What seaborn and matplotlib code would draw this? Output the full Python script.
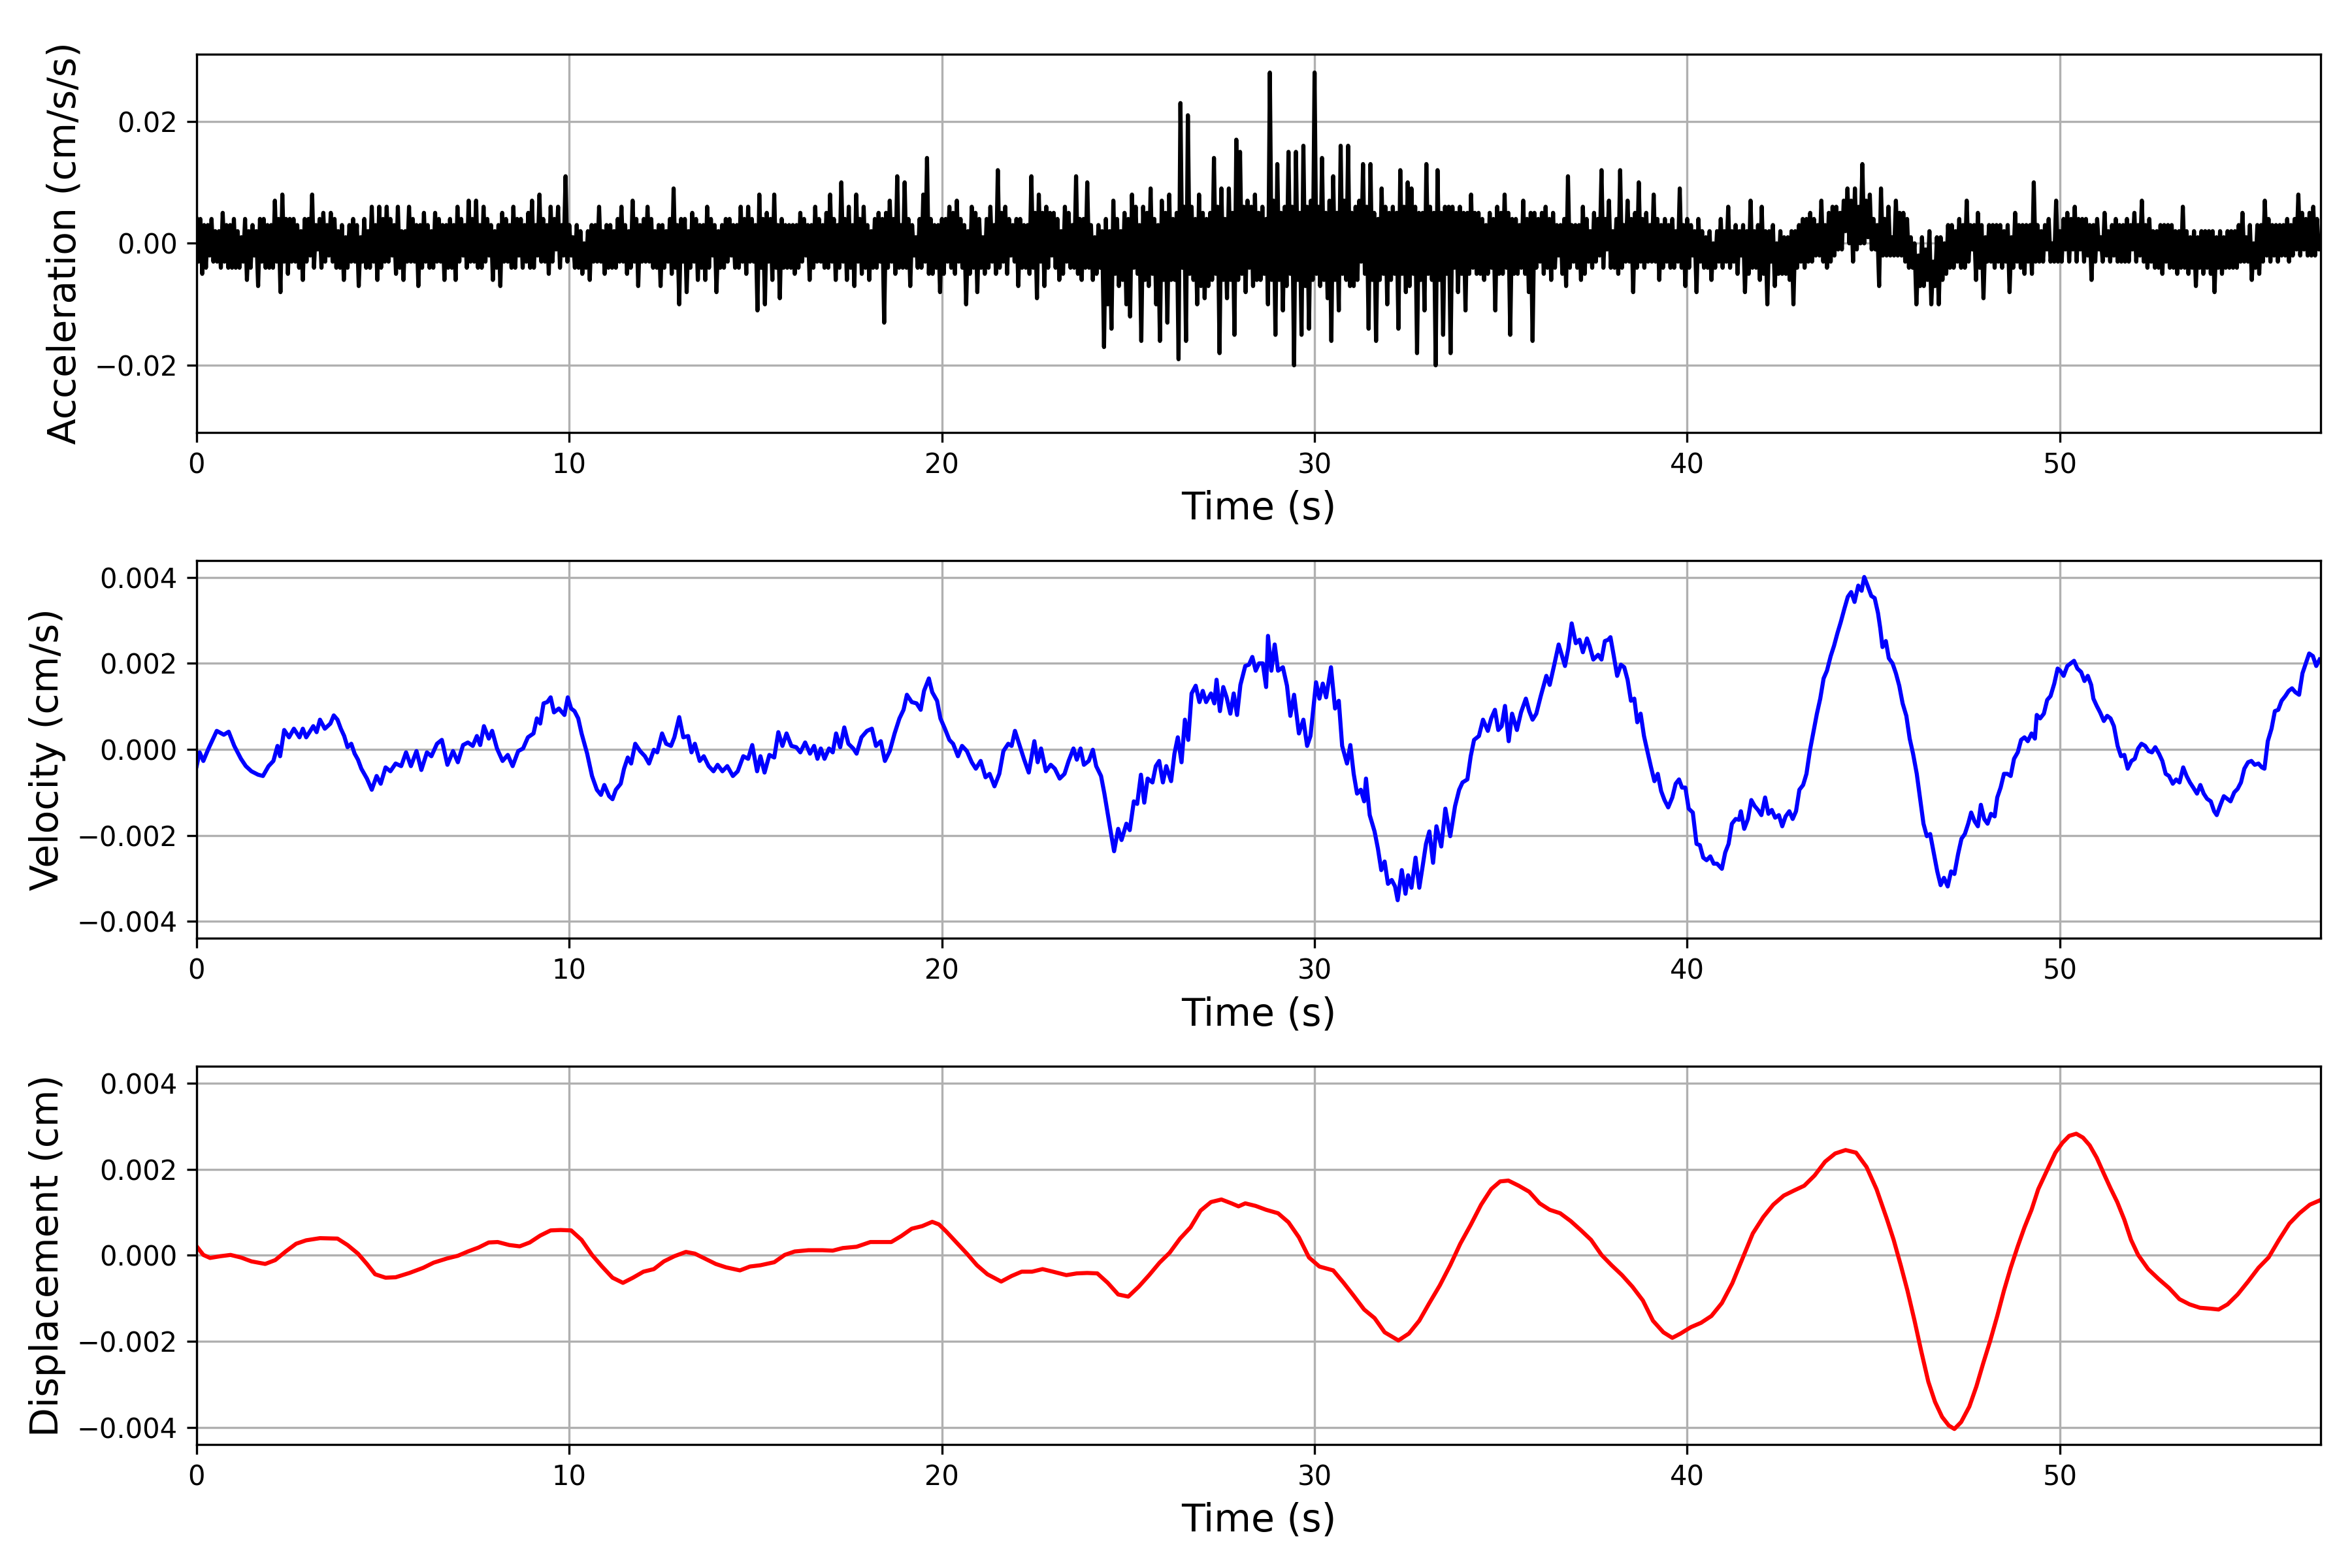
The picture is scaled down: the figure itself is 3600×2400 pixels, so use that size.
import numpy as np
import matplotlib
matplotlib.use('Agg')
import matplotlib.pyplot as plt
import seaborn as sns

# acceleration every 0.05 s, in units of 1e-3 cm/s/s (one row per second)
acc_dt = 0.05
acc_vals = [
    4, -3, 4, -5, 3, -4, 3, -2, 4, -3, 2, -3, 2, -4, 5, -3, 3, -4, 3, -4,
    4, -4, 2, -4, 1, -3, 4, -6, 2, -4, 3, -2, 2, -7, 4, -3, 4, -4, 3, -4,
    3, -4, 7, -3, 4, -8, 8, -3, 4, -5, 4, -3, 4, -3, 3, -4, 2, -6, 4, -3,
    4, -2, 8, -4, 3, -1, 4, -4, 5, -3, 3, -2, 5, -3, 4, -4, 2, -4, 3, -6,
    1, -4, 3, -3, 4, -3, 3, -7, 1, -3, 4, -4, 2, -4, 6, -3, 3, -6, 6, -4,
    4, -3, 6, -3, 4, -2, 3, -5, 6, -4, 2, -6, 2, -3, 6, -3, 4, -3, 3, -7,
    3, -4, 5, -3, 3, -4, 2, -4, 5, -3, 4, -3, 3, -6, 3, -4, 4, -4, 3, -6,
    6, -3, 4, -2, 3, -4, 7, -3, 4, -3, 7, -4, 3, -4, 6, -3, 4, -2, 3, -6,
    2, -4, 3, -7, 5, -3, 4, -3, 3, -4, 6, -4, 4, -2, 4, -4, 3, -3, 5, -4,
    7, -4, 3, -2, 8, -3, 4, -3, 3, -5, 6, -3, 4, -1, 6, -4, 3, -2, 11, -3,
    3, -2, 1, -4, 3, -4, 2, -5, 0, -4, 2, -6, 3, -3, 3, -3, 6, -3, 2, -5,
    3, -4, 3, -4, 2, -4, 4, -3, 6, -3, 3, -5, 2, -4, 7, -3, 4, -7, 3, -3,
    4, -3, 6, -3, 4, -4, 2, -4, 3, -7, 3, -4, 2, -3, 4, -5, 9, -4, 3, -10,
    4, -3, 4, -8, 2, -4, 5, -3, 4, -6, 3, -4, 3, -6, 6, -4, 4, -2, 3, -8,
    2, -4, 3, -4, 4, -3, 4, -2, 3, -4, 3, -4, 6, -3, 4, -5, 6, -3, 4, -3,
    3, -11, 8, -4, 4, -10, 5, -3, 4, -6, 8, -4, 3, -9, 4, -4, 3, -4, 3, -4,
    3, -5, 3, -4, 5, -3, 4, -2, 3, -6, 3, -4, 6, -3, 4, -3, 3, -4, 5, -4,
    8, -3, 4, -6, 3, -4, 10, -3, 4, -6, 6, -4, 3, -7, 8, -3, 4, -5, 6, -4,
    3, -6, 2, -4, 4, -4, 5, -3, 4, -13, 5, -4, 7, -3, 4, -5, 11, -4, 3, -4,
    10, -4, 4, -7, 3, -2, 1, -4, 4, -4, 8, -3, 14, -5, 4, -5, 3, -4, 3, -8,
    4, -5, 4, -3, 6, -4, 5, -5, 7, -3, 4, -4, 3, -10, 2, -5, 6, -4, 5, -8,
    4, -4, 1, -5, 4, -4, 6, -3, 3, -5, 12, -4, 5, -3, 6, -5, 4, -2, 3, -3,
    4, -7, 4, -4, 3, -4, 3, -5, 11, -4, 5, -9, 8, -3, 5, -7, 6, -4, 5, -2,
    5, -4, 4, -6, 2, -5, 6, -3, 5, -4, 3, -4, 11, -5, 4, -6, 4, -4, 10, -4,
    3, -6, 1, -5, 3, -4, 2, -17, 4, -10, 2, -14, 7, -5, 4, -7, 2, -6, 5, -10,
    4, -12, 8, -4, 6, -5, 3, -16, 6, -6, 5, -7, 9, -5, 4, -10, 3, -16, 7, -6,
    5, -13, 8, -6, 4, -6, 5, -19, 23, -4, 6, -16, 21, -5, 6, -6, 4, -10, 8, -7,
    5, -9, 4, -7, 5, -6, 14, -5, 6, -18, 9, -6, 4, -9, 9, -6, 5, -15, 17, -6,
    15, -5, 6, -8, 7, -4, 6, -7, 8, -6, 5, -6, 6, -5, 4, -10, 28, -6, 7, -15,
    13, -6, 5, -11, 6, -7, 15, -5, 6, -20, 15, -6, 5, -15, 16, -7, 6, -14, 7, -6,
    28, -5, 6, -7, 14, -6, 5, -9, 7, -16, 11, -6, 5, -11, 16, -5, 7, -6, 16, -7,
    5, -7, 6, -6, 7, -3, 13, -5, 6, -14, 13, -6, 5, -16, 4, -6, 9, -5, 6, -10,
    5, -6, 6, -5, 5, -14, 12, -5, 6, -8, 10, -7, 9, -5, 6, -18, 5, -6, 5, -11,
    13, -5, 6, -6, 5, -20, 12, -6, 5, -15, 6, -5, 6, -18, 6, -4, 5, -8, 6, -5,
    5, -11, 5, -5, 8, -4, 5, -5, 5, -5, 4, -6, 3, -5, 5, -4, 4, -11, 6, -5,
    5, -5, 8, -4, 5, -15, 4, -5, 4, -5, 3, -4, 7, -5, 4, -8, 5, -16, 5, -4,
    4, -3, 5, -5, 6, -4, 4, -6, 5, -4, 3, -2, 3, -5, 4, -7, 11, -4, 3, -3,
    3, -4, 3, -6, 6, -5, 4, -3, 2, -4, 5, -3, 4, -2, 12, -4, 4, -1, 7, -4,
    2, -4, 4, -5, 12, -4, 3, -3, 7, -3, 4, -8, 5, -4, 10, -3, 4, -4, 5, -3,
    3, -3, 8, -3, 4, -6, 3, -4, 4, -3, 3, -4, 4, -4, 2, -3, 9, -4, 3, -7,
    4, -4, 3, -2, 2, -8, 4, -3, 2, -4, 1, -4, 2, -6, 0, -4, 2, -3, 4, -4,
    2, -3, 6, -4, 2, -3, 3, -5, 2, -2, 3, -8, 2, -5, 7, -4, 2, -4, 3, -6,
    6, -5, 2, -10, 2, -3, 3, -7, 0, -5, 2, -5, 1, -5, 1, -6, 2, -10, 2, -4,
    3, -3, 4, -4, 4, -3, 5, -3, 4, -2, 3, -2, 7, -3, 3, -4, 5, -3, 6, -2,
    6, -1, 5, -1, 7, 2, 9, 0, 7, -3, 9, -1, 6, 0, 13, 0, 7, 1, 8, -1,
    4, -1, 3, -7, 9, -2, 4, -2, 6, -2, 1, -2, 7, -2, 5, -2, 5, -3, 4, -4,
    1, -4, 0, -10, -2, -7, 1, -7, -1, -6, 2, -10, -3, -7, 1, -10, 1, -6, 0, -5,
    3, -4, 3, -4, 2, -3, 4, -4, 3, -4, 7, -3, 3, -1, 3, -6, 5, -4, 3, -9,
    1, -3, 3, -3, 3, -4, 3, -3, 3, -4, 2, -3, 3, -8, 1, -4, 5, -3, 3, -4,
    3, -5, 3, -3, 3, -5, 10, -3, 3, -3, 2, -3, 3, -1, 4, -3, 0, -3, 7, -3,
    2, -3, 4, -1, 5, -3, 4, -1, 6, -3, 4, -1, 4, -3, 4, -2, 3, -6, 3, -3,
    4, -1, 1, -3, 5, -2, 2, -3, 3, -2, 4, -3, 3, -3, 3, -3, 4, -3, 3, -1,
    5, -3, 3, -2, 7, -3, 3, -4, 4, -3, 2, -4, 2, -4, 3, -5, 3, -3, 3, -4,
    3, -4, 2, -5, 2, -4, 6, -4, 2, -5, 1, -4, 2, -7, 1, -4, 2, -5, 2, -4,
    2, -5, 2, -8, 1, -4, 2, -5, 1, -4, 2, -4, 2, -4, 2, -4, 3, -3, 5, -3,
    1, -3, 3, -6, 0, -4, 3, -5, 3, -3, 7, -2, 4, -3, 3, -2, 3, -3, 3, -2,
    3, -2, 4, -3, 3, -2, 4, -1, 8, -2, 5, -1, 4, -2, 5, -2, 6, -2, 4, -1,
    1,
]

# velocity, time in s and value in units of 1e-4 cm/s
vel_t = [
    0.00, 0.08, 0.18, 0.32, 0.54, 0.73, 0.86, 1.01, 1.19, 1.32, 1.47, 1.65, 1.78, 1.93, 2.06, 2.17, 2.24, 2.35,
    2.48, 2.61, 2.76, 2.85, 2.94, 3.13, 3.22, 3.31, 3.44, 3.59, 3.68, 3.78, 3.87, 3.96, 4.05, 4.15, 4.24, 4.33,
    4.42, 4.57, 4.70, 4.83, 4.94, 5.07, 5.20, 5.34, 5.49, 5.62, 5.75, 5.90, 6.03, 6.18, 6.30, 6.45, 6.58, 6.73,
    6.88, 7.01, 7.15, 7.28, 7.41, 7.52, 7.61, 7.71, 7.84, 7.93, 8.06, 8.21, 8.35, 8.48, 8.63, 8.76, 8.89, 9.04,
    9.13, 9.22, 9.31, 9.41, 9.50, 9.59, 9.72, 9.87, 9.96, 10.05, 10.14, 10.24, 10.33, 10.48, 10.61, 10.74, 10.85,
    10.94, 11.07, 11.16, 11.25, 11.38, 11.47, 11.57, 11.66, 11.77, 11.90, 12.03, 12.14, 12.27, 12.36, 12.49,
    12.60, 12.73, 12.82, 12.95, 13.06, 13.19, 13.28, 13.37, 13.50, 13.61, 13.74, 13.87, 13.98, 14.11, 14.24,
    14.39, 14.52, 14.67, 14.80, 14.91, 15.04, 15.13, 15.24, 15.37, 15.50, 15.61, 15.72, 15.83, 15.96, 16.09,
    16.20, 16.33, 16.46, 16.57, 16.66, 16.75, 16.85, 16.97, 17.07, 17.16, 17.27, 17.38, 17.49, 17.62, 17.71,
    17.84, 17.99, 18.12, 18.23, 18.36, 18.47, 18.60, 18.73, 18.86, 18.97, 19.06, 19.19, 19.32, 19.43, 19.52,
    19.65, 19.74, 19.87, 19.96, 20.08, 20.20, 20.30, 20.43, 20.54, 20.67, 20.80, 20.91, 21.04, 21.17, 21.28,
    21.41, 21.54, 21.65, 21.78, 21.87, 21.96, 22.09, 22.20, 22.33, 22.48, 22.57, 22.66, 22.79, 22.92, 23.03,
    23.16, 23.29, 23.40, 23.53, 23.62, 23.72, 23.81, 23.94, 24.05, 24.14, 24.27, 24.36, 24.45, 24.54, 24.62,
    24.73, 24.82, 24.95, 25.04, 25.15, 25.24, 25.34, 25.43, 25.52, 25.65, 25.74, 25.83, 25.93, 26.02, 26.15,
    26.24, 26.33, 26.43, 26.52, 26.61, 26.70, 26.81, 26.91, 27.00, 27.09, 27.22, 27.31, 27.37, 27.46, 27.55,
    27.64, 27.74, 27.83, 27.92, 28.01, 28.14, 28.24, 28.33, 28.42, 28.51, 28.61, 28.70,
    28.75, 28.84, 28.93, 29.02, 29.15, 29.26, 29.35, 29.45, 29.58, 29.70, 29.80, 29.89, 30.04, 30.13, 30.22,
    30.31, 30.44, 30.55, 30.65, 30.74, 30.87, 30.96, 31.05, 31.14, 31.24, 31.33, 31.38, 31.48, 31.61, 31.70,
    31.79, 31.88, 31.97, 32.07, 32.16, 32.23, 32.34, 32.44, 32.51, 32.60, 32.71, 32.81, 32.90, 32.99, 33.08,
    33.18, 33.27, 33.40, 33.51, 33.64, 33.77, 33.88, 33.97, 34.10, 34.19, 34.28, 34.41, 34.52, 34.65, 34.74,
    34.84, 34.93, 35.02, 35.11, 35.21, 35.30, 35.43, 35.54, 35.67, 35.76, 35.85, 35.95, 36.07, 36.22, 36.31,
    36.44, 36.55, 36.72, 36.81, 36.90, 37.01, 37.11, 37.20, 37.31, 37.38, 37.48, 37.61, 37.70, 37.79, 37.88,
    37.94, 38.03, 38.12, 38.22, 38.31, 38.40, 38.49, 38.58, 38.66, 38.75, 38.84, 38.93, 39.03, 39.12, 39.21,
    39.30, 39.39, 39.49, 39.60, 39.69, 39.78, 39.86, 39.95, 40.04, 40.15, 40.25, 40.34, 40.43, 40.52, 40.62,
    40.71, 40.80, 40.93, 41.02, 41.11, 41.20, 41.30, 41.39, 41.44, 41.53, 41.63, 41.72, 41.81, 41.90, 41.99,
    42.09, 42.18, 42.27, 42.36, 42.46, 42.55, 42.64, 42.74, 42.83, 42.92, 43.01, 43.11, 43.20, 43.29, 43.38,
    43.48, 43.57, 43.66, 43.75, 43.85, 43.94, 44.03, 44.12, 44.22, 44.31, 44.40, 44.49, 44.59, 44.68, 44.75,
    44.84, 44.94, 45.03, 45.12, 45.18, 45.24, 45.33, 45.41, 45.51, 45.60, 45.69, 45.78, 45.88, 45.97, 46.06,
    46.16, 46.25, 46.34, 46.43, 46.52, 46.62, 46.71, 46.80, 46.89, 46.99, 47.08, 47.17, 47.27, 47.36, 47.45,
    47.54, 47.62, 47.71, 47.80, 47.88, 47.97, 48.06, 48.15, 48.25, 48.32, 48.41, 48.50, 48.59, 48.68, 48.77,
    48.87, 48.96, 49.05, 49.14, 49.24, 49.33, 49.38, 49.47, 49.57, 49.66, 49.75, 49.85, 49.94, 50.01, 50.10,
    50.20, 50.29, 50.38, 50.47, 50.57, 50.66, 50.75, 50.84, 50.90, 50.99, 51.08, 51.18, 51.27, 51.36, 51.45,
    51.55, 51.64, 51.73, 51.82, 51.92, 52.01, 52.10, 52.19, 52.29, 52.38, 52.47, 52.56, 52.66, 52.75, 52.84,
    52.93, 53.03, 53.12, 53.21, 53.31, 53.40, 53.49, 53.58, 53.68, 53.77, 53.86, 53.95, 54.05, 54.14, 54.21,
    54.31, 54.40, 54.49, 54.58, 54.68, 54.77, 54.86, 54.95, 55.05, 55.14, 55.23, 55.33, 55.42, 55.49, 55.58,
    55.68, 55.77, 55.86, 55.95, 56.05, 56.14, 56.23, 56.32, 56.42, 56.51, 56.60, 56.69, 56.79, 56.88, 56.97,
]
vel_v = [
    -3.9, -0.7, -2.7, 0.2, 4.3, 3.4, 4.1, 0.8, -2.2, -3.9, -5.1, -5.9, -6.2, -3.9, -2.7, 0.8, -1.6, 4.5,
    2.8, 4.8, 2.8, 4.8, 2.8, 5.4, 4.0, 6.9, 4.8, 6.0, 7.9, 6.9, 4.8, 3.1, 0.5, 1.3, -1.0, -2.4,
    -4.5, -6.8, -9.4, -6.2, -8.0, -4.2, -5.1, -3.3, -3.9, -0.7, -3.9, -0.4, -4.8, -0.7, -1.6, 1.3, 2.2, -3.6,
    -0.4, -3.0, 1.0, 1.6, 0.8, 3.1, 1.0, 5.4, 2.5, 4.3, 0.2, -2.7, -1.3, -3.9, -0.4, 0.2, 2.8, 3.7,
    7.2, 6.0, 10.7, 11.0, 12.1, 8.6, 9.5, 8.0, 12.1, 9.5, 8.9, 7.2, 3.7, -1.0, -6.2, -9.4, -10.6,
    -8.3, -10.9, -11.6, -9.4, -8.0, -4.5, -1.9, -3.3, 1.3, -0.4, -1.6, -3.3, -0.1, -0.7, 3.7,
    1.3, 0.8, 2.8, 7.5, 2.8, 3.1, -0.7, 1.3, -2.7, -1.6, -3.9, -5.1, -3.6, -5.1, -3.9,
    -6.2, -5.1, -1.6, -2.2, 1.0, -5.1, -1.6, -5.4, -1.3, -1.9, 4.0, 0.8, 3.7, 0.8, 0.5,
    -0.7, 1.6, -1.0, 0.8, -2.2, 0.2, -2.2, 0.2, -0.7, 3.7, 0.5, 5.1, 1.3, 0.2, -1.0,
    2.8, 4.3, 4.8, 0.8, 1.9, -2.7, -0.4, 3.7, 7.2, 9.2, 12.7, 11.0, 10.7, 9.2, 13.6,
    16.5, 13.3, 11.3, 7.2, 4.8, 2.2, 1.3, -1.6, 0.8, -0.4, -3.0, -4.5, -2.7, -6.5, -5.7,
    -8.6, -5.7, -0.4, 1.3, 0.8, 4.3, 0.8, -2.2, -5.4, 1.9, -3.0, 0.2, -5.1, -3.6, -4.5,
    -6.8, -5.7, -2.7, 0.2, -2.4, 0.2, -3.6, -2.7, -0.1, -3.9, -6.2, -10.3, -15.0, -19.7, -23.7,
    -18.5, -21.1, -17.3, -18.8, -12.1, -12.7, -5.9, -12.4, -6.8, -7.7, -3.9, -2.7, -7.7, -3.9, -7.4,
    -1.0, 2.8, -3.0, 6.9, 2.2, 13.0, 14.8, 11.0, 13.6, 11.0, 13.0, 10.7, 16.2, 8.9, 14.5,
    12.1, 8.3, 13.0, 8.0, 15.0, 19.4, 19.7, 21.5, 18.3, 20.0, 20.0, 14.5,
    26.4, 18.3, 24.4, 18.3, 19.1, 14.8, 7.8, 12.7, 3.7, 6.9, 0.8, 3.1, 15.6, 11.8, 15.3,
    12.1, 19.1, 9.5, 11.3, 0.8, -3.3, 1.0, -5.7, -10.3, -9.4, -12.1, -6.8, -15.3, -19.1, -23.1,
    -28.1, -26.1, -31.3, -30.4, -31.9, -35.1, -28.1, -33.6, -29.3, -32.2, -25.2, -32.2, -27.2, -22.0, -19.1,
    -26.4, -17.9, -22.6, -13.8, -20.2, -13.2, -9.4, -7.7, -7.0, -1.6, 2.2, 3.1, 6.9, 4.3, 7.2,
    9.2, 4.5, 5.4, 10.1, 1.9, 8.3, 4.5, 8.6, 11.8, 8.9, 6.9, 8.3, 12.4, 17.1, 15.0,
    20.0, 24.4, 19.4, 23.5, 29.3, 24.7, 25.5, 22.6, 25.8, 24.1, 20.9, 22.0, 20.9, 25.2, 25.5,
    26.1, 21.7, 17.1, 19.7, 19.1, 16.2, 11.3, 11.8, 6.3, 8.3, 3.1, -0.4, -4.2, -7.4, -5.7,
    -9.7, -11.8, -13.5, -11.2, -8.0, -7.0, -8.9, -8.9, -13.8, -14.7, -22.0, -22.3, -25.2, -25.8, -24.9,
    -26.6, -26.6, -27.8, -24.0, -22.0, -17.3, -16.2, -16.4, -14.4, -18.5, -16.2, -11.8, -13.2, -14.1, -15.3,
    -11.2, -15.0, -14.1, -15.9, -15.3, -17.9, -15.6, -14.4, -16.2, -14.4, -9.4, -8.3, -5.7, -0.4, 3.7,
    8.3, 11.8, 16.5, 18.3, 21.7, 24.1, 27.0, 29.6, 32.8, 35.5, 36.6, 34.3, 38.1, 36.9, 40.1,
    38.1, 35.7, 35.2, 31.7, 28.2, 23.8, 25.2, 21.2, 20.0, 17.7, 14.8, 10.7, 7.8, 2.5, -1.0,
    -5.7, -11.5, -17.3, -20.2, -19.7, -24.3, -28.4, -31.6, -29.9, -31.9, -28.4, -29.0, -24.3, -20.8, -19.7,
    -17.3, -14.7, -16.7, -17.9, -12.9, -16.2, -17.3, -15.0, -15.6, -11.2, -8.9, -5.7, -5.7, -6.2, -2.2,
    -0.7, 2.2, 2.8, 1.9, 3.7, 2.5, 8.0, 7.2, 8.3, 11.5, 12.4, 15.3, 18.8, 18.3, 17.1,
    19.4, 20.0, 20.6, 18.8, 18.0, 15.9, 17.1, 15.0, 11.8, 10.1, 8.6, 6.6, 7.8, 7.2, 5.4,
    0.8, -1.6, -1.3, -4.5, -2.7, -2.2, 0.2, 1.3, 0.8, -0.4, -0.7, 0.5, -1.0, -2.7, -5.7,
    -6.2, -8.0, -7.0, -7.7, -4.2, -6.2, -7.7, -8.9, -10.3, -8.3, -10.3, -11.5, -12.1, -14.4, -15.3,
    -12.9, -10.9, -11.5, -12.1, -10.0, -9.2, -7.7, -4.5, -3.0, -2.7, -3.6, -3.3, -4.2, -4.5, 1.9,
    4.8, 8.9, 9.2, 11.3, 12.4, 13.6, 14.2, 13.3, 12.7, 17.7, 20.0, 22.3, 21.7, 19.4, 20.9,
]

# displacement, time in s and value in units of 1e-4 cm
disp_t = [
    0.00, 0.18, 0.36, 0.64, 0.91, 1.19, 1.47, 1.84, 2.11, 2.39, 2.67, 2.94, 3.31, 3.78, 4.05, 4.33, 4.57, 4.79,
    5.07, 5.34, 5.71, 6.08, 6.36, 6.73, 7.01, 7.28, 7.56, 7.84, 8.08, 8.39, 8.67, 8.94, 9.22, 9.50, 9.77,
    10.05, 10.33, 10.61, 10.88, 11.16, 11.44, 11.71, 11.99, 12.27, 12.54, 12.82, 13.13, 13.37, 13.65, 13.93,
    14.21, 14.58, 14.85, 15.13, 15.50, 15.78, 16.05, 16.42, 16.79, 17.07, 17.34, 17.71, 18.08, 18.36, 18.64,
    18.91, 19.19, 19.47, 19.74, 19.92, 20.11, 20.39, 20.67, 20.94, 21.22, 21.59, 21.87, 22.14, 22.42, 22.70,
    22.98, 23.34, 23.62, 23.90, 24.17, 24.45, 24.73, 25.00, 25.28, 25.56, 25.84, 26.11, 26.39, 26.67, 26.94,
    27.22, 27.50, 27.77, 27.96, 28.14, 28.42, 28.70, 29.02, 29.30, 29.58, 29.85, 30.13, 30.50, 30.78, 31.05,
    31.33, 31.61, 31.88, 32.25, 32.53, 32.81, 33.08, 33.36, 33.64, 33.91, 34.19, 34.47, 34.74, 34.98, 35.20,
    35.48, 35.76, 36.04, 36.31, 36.59, 36.87, 37.14, 37.42, 37.70, 37.97, 38.25, 38.53, 38.81, 39.08, 39.36,
    39.60, 39.82, 40.10, 40.37, 40.65, 40.93, 41.21, 41.48, 41.76, 42.04, 42.31, 42.59, 42.87, 43.14, 43.42,
    43.70, 43.97, 44.25, 44.53, 44.81, 45.08, 45.36, 45.54, 45.73, 45.91, 46.10, 46.28, 46.47, 46.65, 46.84,
    47.02, 47.17, 47.35, 47.57, 47.76, 47.94, 48.13, 48.32, 48.50, 48.68, 48.87, 49.05, 49.24, 49.42, 49.70,
    49.88, 50.07, 50.25, 50.44, 50.62, 50.80, 50.99, 51.17, 51.36, 51.54, 51.73, 51.91, 52.10, 52.37, 52.65,
    52.93, 53.21, 53.48, 53.76, 54.04, 54.26, 54.50, 54.77, 55.05, 55.33, 55.60, 55.88, 56.16, 56.43, 56.71,
    56.95,
]
disp_v = [
    2.1, 0.1, -0.6, -0.2, 0.1, -0.5, -1.4, -2.0, -1.1, 0.9, 2.7, 3.5, 4.0, 3.9, 2.4, 0.4, -2.0, -4.4,
    -5.2, -5.1, -4.1, -2.9, -1.7, -0.7, -0.1, 0.9, 1.8, 3.0, 3.1, 2.4, 2.1, 3.0, 4.6, 5.8, 5.9,
    5.8, 3.6, 0.1, -2.6, -5.2, -6.4, -5.2, -3.8, -3.2, -1.4, -0.2, 0.8, 0.4, -0.8, -2.0,
    -2.8, -3.5, -2.6, -2.3, -1.6, 0.1, 0.9, 1.2, 1.2, 1.1, 1.7, 2.0, 3.1, 3.1, 3.1,
    4.5, 6.2, 6.8, 7.8, 7.2, 5.6, 3.0, 0.4, -2.3, -4.4, -6.1, -4.8, -3.8, -3.8, -3.2,
    -3.8, -4.6, -4.2, -4.1, -4.2, -6.4, -9.1, -9.6, -7.3, -4.6, -1.7, 0.6, 3.9, 6.5, 10.4,
    12.4, 13.0, 12.1, 11.4, 12.1, 11.5, 10.6, 9.8, 7.7, 4.2, -0.5, -2.6, -3.5, -6.4, -9.4,
    -12.6, -14.6, -17.9, -19.8, -18.2, -15.2, -11.1, -7.0, -2.3, 2.7, 7.1, 11.8, 15.4, 17.2, 17.4,
    16.2, 14.8, 12.1, 10.6, 9.8, 8.0, 5.9, 3.6, 0.1, -2.3, -4.6, -7.3, -10.5, -15.2, -17.9,
    -19.2, -18.2, -16.7, -15.7, -14.1, -11.1, -6.5, -0.8, 5.1, 8.9, 11.8, 13.9, 15.1, 16.2, 18.6,
    21.8, 23.7, 24.5, 23.9, 20.6, 15.4, 8.4, 3.6, -2.3, -8.2, -15.2, -22.3, -29.4, -34.1, -37.6,
    -39.6, -40.4, -38.8, -35.2, -30.5, -25.2, -19.9, -14.1, -8.2, -2.9, 2.1, 6.5, 10.6, 15.4, 20.6,
    23.9, 26.2, 27.8, 28.3, 27.4, 25.6, 22.7, 19.2, 15.6, 12.4, 8.3, 3.6, 0.1, -3.2, -5.5,
    -7.6, -10.2, -11.4, -12.2, -12.4, -12.6, -11.4, -9.1, -6.1, -2.9, -0.5, 3.6, 7.4, 9.8, 11.8,
    12.7,
]

t_acc = np.arange(len(acc_vals)) * acc_dt
acc = np.array(acc_vals) * 1e-3
vel = np.array(vel_v) * 1e-4
disp = np.array(disp_v) * 1e-4

panels = [
    (t_acc, acc, 'k', 'Acceleration (cm/s/s)', 0.031, [-0.02, 0.0, 0.02]),
    (np.array(vel_t), vel, 'b', 'Velocity (cm/s)', 0.0044, [-0.004, -0.002, 0.0, 0.002, 0.004]),
    (np.array(disp_t), disp, 'r', 'Displacement (cm)', 0.0044, [-0.004, -0.002, 0.0, 0.002, 0.004]),
]

fig, axes = plt.subplots(3, 1, figsize=(12, 8))
fig.subplots_adjust(left=0.0836, right=0.9867, top=0.9654, bottom=0.0788, hspace=0.338)

for ax, (t, y, c, lab, lim, yt) in zip(axes, panels):
    sns.lineplot(x=t, y=y, ax=ax, color=c, linewidth=1.5, estimator=None, sort=False)
    ax.set_xlim(0, 57)
    ax.set_ylim(-lim, lim)
    ax.set_xticks([0, 10, 20, 30, 40, 50])
    ax.set_yticks(yt)
    ax.set_xlabel('Time (s)', fontsize=14)
    ax.set_ylabel(lab, fontsize=14)
    ax.tick_params(labelsize=10)
    ax.grid(True)

fig.savefig('out.png', dpi=300)
